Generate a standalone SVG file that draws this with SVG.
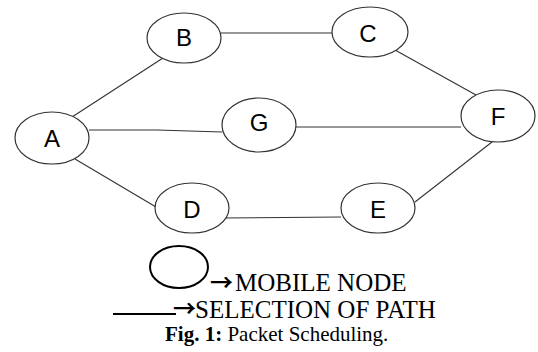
<svg xmlns="http://www.w3.org/2000/svg" width="538" height="352" viewBox="0 0 538 352">
<style>
.node ellipse{fill:#fff;stroke:#333;stroke-width:1.2}
.node text{font-family:"Liberation Sans",Arial,sans-serif;font-size:24px;fill:#000;text-anchor:middle}
.edges line,.edges polyline{stroke:#333;stroke-width:1.1;fill:none}
.leg{font-family:"Liberation Serif","Times New Roman",serif;font-size:25px;fill:#000}
.arr{font-family:"Noto Sans CJK SC",sans-serif;font-size:23px;font-weight:bold;fill:#000}
.cap{font-family:"Liberation Serif","Times New Roman",serif;font-size:21px;fill:#000}
</style>
<rect width="538" height="352" fill="#fff"/>
<g class="edges" id="connectors">
<line x1="72" y1="117" x2="163" y2="58"/>
<line x1="221" y1="33" x2="332" y2="33"/>
<polyline points="89,130 157,130 222,132"/>
<line x1="296" y1="127" x2="461" y2="127"/>
<line x1="395" y1="50" x2="476" y2="95"/>
<line x1="492" y1="142" x2="415" y2="202"/>
<line x1="75" y1="159" x2="156" y2="207"/>
<line x1="222" y1="218" x2="341" y2="217"/>
</g>
<g class="node" id="node-A"><ellipse cx="52" cy="138" rx="37" ry="26"/><text x="52" y="147">A</text></g>
<g class="node" id="node-B"><ellipse cx="184" cy="38" rx="37" ry="25"/><text x="184" y="46">B</text></g>
<g class="node" id="node-C"><ellipse cx="370" cy="32" rx="38" ry="25"/><text x="368" y="42">C</text></g>
<g class="node" id="node-G"><ellipse cx="259" cy="125" rx="37" ry="27"/><text x="259" y="131">G</text></g>
<g class="node" id="node-F"><ellipse cx="498" cy="116" rx="37" ry="26"/><text x="498" y="125">F</text></g>
<g class="node" id="node-D"><ellipse cx="192" cy="208" rx="37" ry="25"/><text x="192" y="218">D</text></g>
<g class="node" id="node-E"><ellipse cx="378" cy="208" rx="37" ry="25"/><text x="378" y="218">E</text></g>
<g id="legend">
<ellipse cx="179" cy="267" rx="29" ry="21" fill="none" stroke="#000" stroke-width="2"/>
<text class="leg" x="210" y="291"><tspan class="arr" x="210" y="291">→</tspan><tspan x="235" y="291">MOBILE NODE</tspan></text>
<line x1="113" y1="314" x2="176" y2="314" stroke="#000" stroke-width="2"/>
<text class="leg" x="173" y="318"><tspan class="arr" x="173" y="317">→</tspan><tspan x="195" y="318">SELECTION OF PATH</tspan></text>
<text class="cap" x="165" y="341"><tspan font-weight="bold">Fig. 1:</tspan> Packet Scheduling.</text>
</g>
</svg>
